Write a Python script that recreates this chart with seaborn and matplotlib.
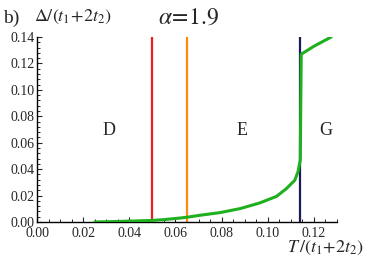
import matplotlib
matplotlib.use("Agg")
import matplotlib.pyplot as plt
import seaborn as sns
import pandas as pd
from matplotlib.ticker import MultipleLocator, FormatStrFormatter

# ---- data ----
T_vals = [0.025, 0.035, 0.045, 0.050, 0.055, 0.062, 0.065, 0.0706, 0.0793, 0.0879,
          0.0965, 0.1038, 0.1081, 0.1117, 0.1131, 0.1141, 0.1143, 0.1145, 0.1200, 0.1275]
gap_vals = [0.0, 0.0004, 0.0009, 0.0012, 0.0018, 0.0030, 0.0036, 0.0051, 0.0071, 0.0101,
            0.0144, 0.0194, 0.0253, 0.0316, 0.0380, 0.0470, 0.0900, 0.1270, 0.1330, 0.1400]
boundary_T = [0.050, 0.065, 0.114]
boundary_colors = ["#ee1c1c", "#ff8a0d", "#1a1a5a"]
region_labels = ["D", "E", "G"]
region_T = [0.031, 0.089, 0.125]
region_y = [0.0695, 0.0695, 0.0695]
x_ticks = [0.00, 0.02, 0.04, 0.06, 0.08, 0.10, 0.12]
y_ticks = [0.00, 0.02, 0.04, 0.06, 0.08, 0.10, 0.12, 0.14]

sns.set_theme(style="ticks")
plt.rcParams["font.family"] = ["Liberation Serif", "DejaVu Serif"]
plt.rcParams["mathtext.fontset"] = "stix"

fig = plt.figure(figsize=(3.74, 2.60), dpi=100)
ax = fig.add_axes([37 / 374, 1 - 222 / 260, 300 / 374, 185 / 260])

df = pd.DataFrame({"T": T_vals, "gap": gap_vals})
for xv, c in zip(boundary_T, boundary_colors):
    ax.axvline(xv, ymin=0, ymax=1, color=c, lw=1.6, zorder=1)
sns.lineplot(data=df, x="T", y="gap", ax=ax, color="#1eb01e", lw=2.2,
             sort=False, estimator=None, zorder=3)

for lab, xv, yv in zip(region_labels, region_T, region_y):
    ax.text(xv, yv, lab, ha="center", va="center", fontsize=13)

ax.set_xlim(0, 0.13)
ax.set_ylim(0, 0.14)
ax.set_xticks(x_ticks)
ax.set_yticks(y_ticks)
ax.xaxis.set_minor_locator(MultipleLocator(0.005))
ax.yaxis.set_minor_locator(MultipleLocator(0.004))
ax.xaxis.set_major_formatter(FormatStrFormatter("%.2f"))
ax.yaxis.set_major_formatter(FormatStrFormatter("%.2f"))
ax.tick_params(which="major", direction="in", length=3.5, width=0.8, labelsize=10)
ax.tick_params(axis="y", which="major", pad=1.5)
ax.tick_params(axis="x", which="major", pad=3.5)
ax.tick_params(which="minor", direction="in", length=2, width=0.7)
for s in ["top", "right"]:
    ax.spines[s].set_visible(False)
for s in ["left", "bottom"]:
    ax.spines[s].set_linewidth(1.0)
    ax.spines[s].set_color("black")
ax.set_xlabel("")
ax.set_ylabel("")

fig.text(3 / 374, 1 - 18 / 260, "b)", fontsize=14, va="center", ha="left")
fig.text(34 / 374, 1 - 17 / 260, r"$\Delta/(t_1\!+\!2t_2)$", fontsize=13, va="center", ha="left")
fig.text(158 / 374, 1 - 18 / 260, r"$\alpha\!=\!1.9$", fontsize=17, va="center", ha="left")
fig.text(364 / 374, 1 - 248 / 260, r"$T\,/(t_1\!+\!2t_2)$", fontsize=13, va="center", ha="right")

fig.savefig("out.png", dpi=100, facecolor="white")
